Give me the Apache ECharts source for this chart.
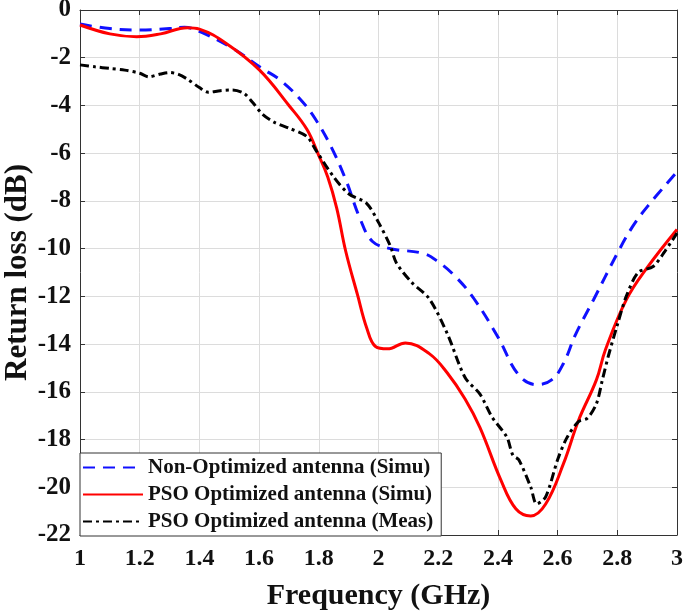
<!DOCTYPE html>
<html>
<head>
<meta charset="utf-8">
<script src="https://cdn.jsdelivr.net/npm/echarts@6/dist/echarts.min.js"></script>
<style>
html,body{margin:0;padding:0;background:#fff;}
#chart{width:685px;height:616px;}
</style>
</head>
<body>
<div id="chart"></div>
<script>
// Frequency (GHz) / Return loss (dB) samples
const nonOptFreq = [1.00,1.10,1.20,1.30,1.35,1.40,1.51,1.61,1.67,1.74,1.79,1.84,1.89,1.94,1.98,2.04,2.15,2.20,2.26,2.32,2.40,2.47,2.53,2.58,2.62,2.66,2.72,2.80,2.85,2.90,3.00];
const nonOptRL   = [-0.59,-0.78,-0.84,-0.78,-0.72,-0.90,-1.60,-2.45,-2.93,-3.77,-4.60,-5.70,-7.10,-8.80,-9.70,-10.00,-10.20,-10.55,-11.20,-12.10,-13.70,-15.30,-15.70,-15.50,-14.80,-13.60,-12.15,-10.20,-9.10,-8.25,-6.78];

const psoSimFreq = [1.00,1.10,1.19,1.27,1.36,1.40,1.49,1.60,1.70,1.76,1.80,1.83,1.86,1.89,1.93,1.96,1.99,2.03,2.09,2.17,2.23,2.29,2.34,2.41,2.46,2.51,2.56,2.62,2.67,2.73,2.76,2.83,2.90,3.00];
const psoSimRL   = [-0.63,-1.00,-1.12,-1.00,-0.74,-0.80,-1.40,-2.50,-4.00,-5.00,-6.10,-7.00,-8.30,-10.10,-11.95,-13.30,-14.10,-14.20,-13.95,-14.40,-15.20,-16.30,-17.50,-19.70,-20.90,-21.20,-20.70,-19.00,-17.20,-15.50,-14.25,-12.15,-10.80,-9.20];

const psoMeasFreq = [1.00,1.05,1.10,1.15,1.20,1.23,1.27,1.30,1.33,1.36,1.40,1.43,1.47,1.51,1.55,1.58,1.61,1.65,1.70,1.76,1.79,1.85,1.90,1.96,2.00,2.04,2.06,2.11,2.17,2.23,2.29,2.34,2.38,2.43,2.45,2.47,2.51,2.53,2.56,2.60,2.63,2.67,2.70,2.73,2.75,2.77,2.80,2.83,2.87,2.92,2.96,3.00];
const psoMeasRL   = [-2.30,-2.38,-2.45,-2.52,-2.65,-2.80,-2.68,-2.62,-2.70,-2.90,-3.25,-3.45,-3.38,-3.35,-3.50,-3.90,-4.35,-4.70,-4.95,-5.30,-5.87,-7.00,-7.70,-8.10,-8.90,-9.90,-10.60,-11.40,-12.10,-13.55,-15.40,-16.10,-17.05,-17.90,-18.65,-18.85,-19.99,-20.70,-20.40,-18.85,-17.95,-17.25,-17.10,-16.50,-15.50,-14.50,-13.20,-12.00,-11.00,-10.75,-10.10,-9.35];

const seriesNames = ['Non-Optimized antenna (Simu)','PSO Optimized antenna (Simu)','PSO Optimized antenna (Meas)'];
const xTickInterval = 0.2;
const yTickInterval = 2;

function pairs(xs, ys){ return xs.map((x,i)=>[x, ys[i]]); }

const FONT = '"Liberation Serif", "Times New Roman", serif';
const chart = echarts.init(document.getElementById('chart'), null, {renderer:'canvas'});

const commonX = {
  type:'value', min:1, max:3, interval:xTickInterval,
  axisLine:{show:true, onZero:false, lineStyle:{color:'#333', width:1}},
  axisTick:{show:true, inside:true, length:5, lineStyle:{color:'#333'}},
  splitLine:{show:false}
};
const commonY = {
  type:'value', min:-22, max:0, interval:yTickInterval,
  axisLine:{show:true, onZero:false, lineStyle:{color:'#333', width:1}},
  axisTick:{show:true, inside:true, length:5, lineStyle:{color:'#333'}},
  splitLine:{show:false}
};

chart.setOption({
  animation:false,
  backgroundColor:'#fff',
  grid:{left:80, right:8, top:10, bottom:81, containLabel:false, outerBoundsMode:'none'},
  legend:{
    orient:'vertical', left:80, top:453,
    padding:[4, 8, 4, 2],
    itemWidth:60, itemHeight:20, itemGap:6,
    borderColor:'#333', borderWidth:1, backgroundColor:'#fff',
    itemStyle:{opacity:0},
    textStyle:{fontFamily:FONT, fontWeight:'bold', fontSize:21, color:'#111'},
    data:seriesNames
  },
  xAxis:[
    Object.assign({}, commonX, {
      position:'bottom',
      axisLabel:{show:true, margin:12, fontFamily:FONT, fontWeight:'bold', fontSize:24, color:'#111',
        formatter:v=>String(Math.round(v*10)/10)},
      splitLine:{show:true, lineStyle:{color:'#dcdcdc', width:1}},
      name:'Frequency (GHz)', nameLocation:'middle', nameGap:46, nameMoveOverlap:false,
      nameTextStyle:{fontFamily:FONT, fontWeight:'bold', fontSize:30, color:'#111'}
    }),
    Object.assign({}, commonX, {position:'top', axisLabel:{show:false}})
  ],
  yAxis:[
    Object.assign({}, commonY, {
      position:'left',
      axisLabel:{show:true, margin:9, fontFamily:FONT, fontWeight:'bold', fontSize:25, color:'#111'},
      splitLine:{show:true, lineStyle:{color:'#dcdcdc', width:1}},
      name:'Return loss (dB)', nameLocation:'middle', nameGap:47, nameMoveOverlap:false,
      nameTextStyle:{fontFamily:FONT, fontWeight:'bold', fontSize:31, color:'#111'}
    }),
    Object.assign({}, commonY, {position:'right', axisLabel:{show:false}})
  ],
  series:[
    {name:seriesNames[0], type:'line', xAxisIndex:0, yAxisIndex:0, data:pairs(nonOptFreq, nonOptRL),
     smooth:0.4, showSymbol:false, symbol:'none', color:'#1010ff',
     lineStyle:{color:'#1010ff', width:3, type:[12,8]}},
    {name:seriesNames[1], type:'line', xAxisIndex:0, yAxisIndex:0, data:pairs(psoSimFreq, psoSimRL),
     smooth:0.4, showSymbol:false, symbol:'none', color:'#ff0000',
     lineStyle:{color:'#ff0000', width:3, type:'solid'}},
    {name:seriesNames[2], type:'line', xAxisIndex:0, yAxisIndex:0, data:pairs(psoMeasFreq, psoMeasRL),
     smooth:0.3, showSymbol:false, symbol:'none', color:'#000000',
     lineStyle:{color:'#000000', width:3, type:[9,4,3,4]}}
  ]
});
</script>
</body>
</html>
